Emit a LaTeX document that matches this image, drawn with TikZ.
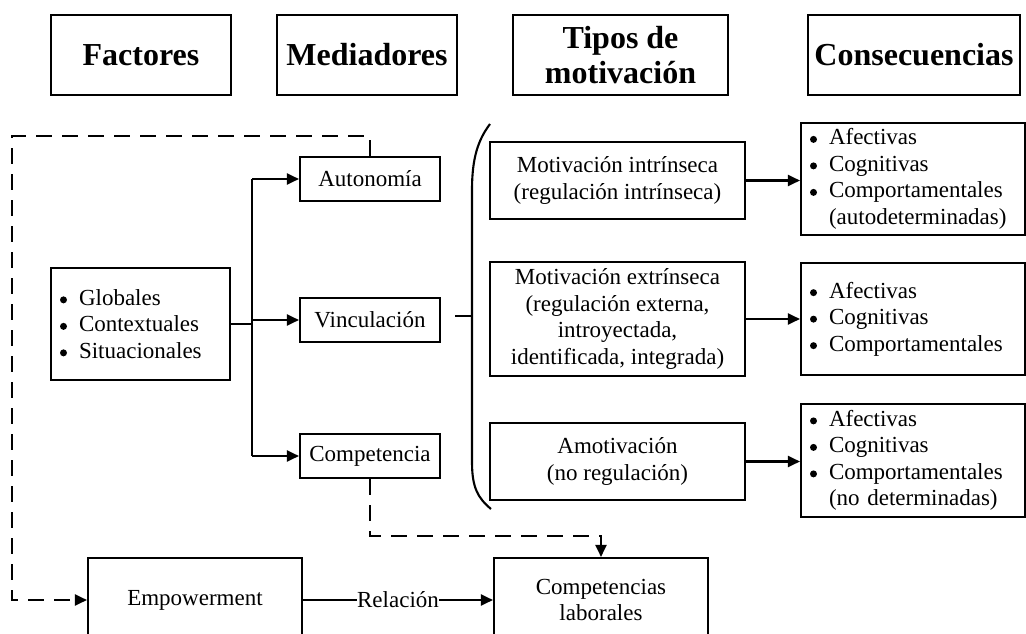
\documentclass[tikz,border=0pt]{standalone}
\usepackage{fontspec}
\setmainfont{Liberation Serif}
\usetikzlibrary{arrows.meta}
\tikzset{box/.style={draw=black, line width=2.1pt, inner sep=0pt, align=center, font=\fontsize{23}{26.5}\selectfont},
%header boxes on top
head/.style={box, font=\fontsize{32}{35}\selectfont\bfseries},
listbox/.style={box, align=left, inner xsep=9pt},
thk/.style={line width=2.1pt},
conn/.style={thk, -{Triangle[length=12pt,width=11pt]}},
dashconn/.style={conn, dash pattern=on 16pt off 10pt}}
\newcommand{\itm}[1]{\makebox[19pt][l]{\tikz[baseline=-5.5pt]\fill[draw=none] (0,0) circle (3.5pt);}#1}

\begin{document}
\begin{tikzpicture}[x=1pt,y=-1pt]
\useasboundingbox (0,0) rectangle (1026,634);
% headers
\node[head, minimum width=180, minimum height=80] (hfac) at (141,55) {Factores};
\node[head, minimum width=180, minimum height=80] (hmed) at (367,55) {Mediadores};
\node[head, minimum width=215, minimum height=80] (htip) at (620.5,55) {Tipos de\\motivación};
\node[head, minimum width=212, minimum height=80] (hcon) at (914,55) {Consecuencias};

% factores and mediadores
\node[listbox, text width=161pt, minimum height=112] (glob) at (140.5,324) {\itm{Globales}\\\itm{Contextuales}\\\itm{Situacionales}};
\node[box, minimum width=140, minimum height=44] (aut) at (370,179) {Autonomía};
\node[box, minimum width=140, minimum height=44] (vinc) at (370,320) {Vinculación};
\node[box, minimum width=140, minimum height=44] (comp) at (370,456) {Competencia};

% tipos de motivacion
\node[box, minimum width=255, minimum height=77] (mi) at (617.5,180.5) {Motivación intrínseca\\(regulación intrínseca)};
\node[box, minimum width=255, minimum height=114] (me) at (617.5,319) {Motivación extrínseca\\(regulación externa,\\introyectada,\\identificada, integrada)};
\node[box, minimum width=255, minimum height=77] (am) at (617.5,461.5) {Amotivación\\(no regulación)};

% consecuencias
\node[listbox, text width=206pt, minimum height=112] (c1) at (913,179) {\itm{Afectivas}\\\itm{Cognitivas}\\\itm{Comportamentales}\\\hspace*{19pt}(autodeterminadas)};
\node[listbox, text width=206pt, minimum height=112] (c2) at (913,319) {\itm{Afectivas}\\\itm{Cognitivas}\\\itm{Comportamentales}};
\node[listbox, text width=206pt, minimum height=113] (c3) at (913,460.5) {\itm{Afectivas}\\\itm{Cognitivas}\\\itm{Comportamentales}\\\hspace*{19pt}(no determinadas)};

% bottom row
\node[box, minimum width=214, minimum height=84] (emp) at (195,600) {Empowerment};
\node[box, minimum width=214, minimum height=84] (cl) at (601,600) {Competencias\\laborales};

% factores -> mediadores
\coordinate (tr) at (252,0);
\draw[thk] (glob.east) -- (glob.east -| tr);
\draw[thk] (tr |- aut) -- (tr |- comp);
\foreach \m in {aut,vinc,comp}
     \draw[conn] (tr |- \m) -- (\m.west);

% bracket
\coordinate (brk) at (472,316);
\draw[thk] ([xshift=14pt]vinc.east |- brk) -- (brk);
\draw[thk] (490,124) .. controls (478,140) and (472,158) .. (472,190) -- (472,462) .. controls (472,488) and (478,498) .. (491,509);

% tipos -> consecuencias
\draw[conn] (mi.east) -- (mi.east -| c1.west);
\draw[conn] (me.east) -- (me.east -| c2.west);
\draw[conn] (am.east) -- (am.east -| c3.west);

% dashed
\coordinate (lt) at (12,136);
\draw[dashconn] (aut.north) -- (aut.north |- lt) -- (lt) -- (lt |- emp) -- (emp.west);
\coordinate (dn) at (0,536);
\draw[dashconn] (comp.south) -- (comp.south |- dn) -- (cl.north |- dn) -- (cl.north);

\draw[conn] (emp.east) -- node[fill=white, inner sep=0.5pt, font=\fontsize{23}{26.5}\selectfont]{Relación} (cl.west);
\end{tikzpicture}
\end{document}
